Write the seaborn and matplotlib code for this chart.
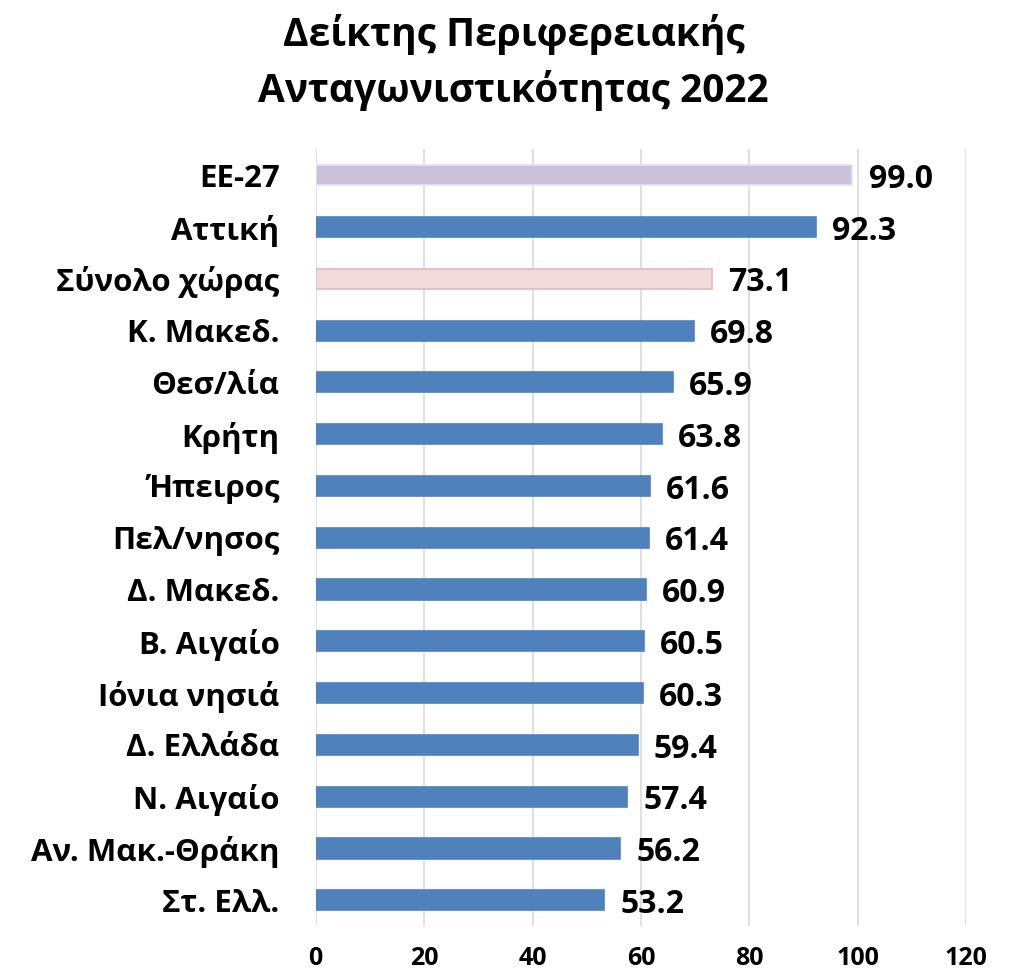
import numpy as np
import pandas as pd
import matplotlib
matplotlib.use('Agg')
import matplotlib.pyplot as plt
import seaborn as sns

# δεδομένα
regions = ['ΕΕ-27', 'Αττική', 'Σύνολο χώρας', 'Κ. Μακεδ.', 'Θεσ/λία', 'Κρήτη',
           'Ήπειρος', 'Πελ/νησος', 'Δ. Μακεδ.', 'Β. Αιγαίο', 'Ιόνια νησιά',
           'Δ. Ελλάδα', 'Ν. Αιγαίο', 'Αν. Μακ.-Θράκη', 'Στ. Ελλ.']
values = [99.0, 92.3, 73.1, 69.8, 65.9, 63.8, 61.6, 61.4, 60.9, 60.5, 60.3,
          59.4, 57.4, 56.2, 53.2]
x_ticks = [0, 20, 40, 60, 80, 100, 120]

blue = '#4F81BD'
fill_colors = {r: blue for r in regions}
fill_colors['ΕΕ-27'] = '#CCC1DA'
fill_colors['Σύνολο χώρας'] = '#F2DCDB'
edge_colors = {r: blue for r in regions}
edge_colors['ΕΕ-27'] = '#E8E3EF'
edge_colors['Σύνολο χώρας'] = '#E6B9B8'

sns.set_theme(style='white')
plt.rcParams['font.family'] = ['Open Sans', 'DejaVu Sans']
plt.rcParams['text.color'] = 'black'
plt.rcParams['xtick.color'] = 'black'
plt.rcParams['ytick.color'] = 'black'

df = pd.DataFrame({'region': regions, 'value': values})

fig = plt.figure(figsize=(10.15, 9.76), dpi=100)
ax = fig.add_axes([0.311, 0.051, 0.641, 0.796])

sns.barplot(data=df, x='value', y='region', hue='region', order=regions,
            palette=fill_colors, legend=False, width=0.39, saturation=1, ax=ax)

for patch, r in zip(ax.patches, regions):
    patch.set_edgecolor(edge_colors[r])
    patch.set_linewidth(1.2)

# ετικέτες τιμών
for i, v in enumerate(values):
    ax.text(v + 3.0, i + 0.08, f'{v:.1f}', va='center', ha='left',
            fontsize=23, fontweight='bold', color='black')

ax.set_xlim(0, 120)
ax.set_xticks(x_ticks)
ax.set_ylim(len(regions) - 0.5, -0.5)
ax.grid(axis='x', color='#D9D9D9', linewidth=1.2)
ax.set_axisbelow(True)
for s in ax.spines.values():
    s.set_visible(False)
ax.tick_params(axis='both', length=0)
ax.tick_params(axis='x', pad=14, labelsize=18)
ax.tick_params(axis='y', pad=26, labelsize=22.5)
for lab in ax.get_xticklabels() + ax.get_yticklabels():
    lab.set_fontweight('bold')
ax.set_xlabel('')
ax.set_ylabel('')

fig.suptitle('Δείκτης Περιφερειακής\nΑνταγωνιστικότητας 2022', x=0.506, y=0.936,
             va='center', fontsize=28, fontweight='bold', linespacing=1.45)

fig.savefig('out.png', dpi=100)
